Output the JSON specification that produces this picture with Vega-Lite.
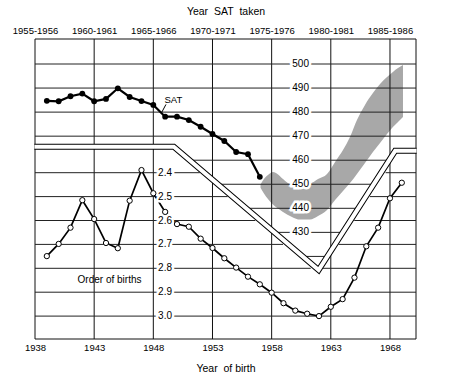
{
  "$schema": "https://vega.github.io/schema/vega-lite/v6.json",
  "width": 381,
  "height": 300,
  "autosize": {"type": "none"},
  "padding": {"left": 35, "top": 39, "right": 41, "bottom": 40},
  "background": "white",
  "config": {
    "view": {"stroke": null},
    "font": "Liberation Sans",
    "axis": {"domain": false, "ticks": false, "grid": false, "labelFont": "Liberation Sans", "labelFontSize": 9.5, "labelColor": "#000", "titleFont": "Liberation Sans", "titleFontSize": 10.5, "titleFontWeight": "normal", "titleColor": "#000"}
  },
  "datasets": {
    "sat": [
      {"year": 1956, "score": 484.7}, {"year": 1957, "score": 484.5}, {"year": 1958, "score": 486.6},
      {"year": 1959, "score": 487.7}, {"year": 1960, "score": 484.5}, {"year": 1961, "score": 485.5},
      {"year": 1962, "score": 489.9}, {"year": 1963, "score": 486.3}, {"year": 1964, "score": 484.6},
      {"year": 1965, "score": 483.0}, {"year": 1966, "score": 478.1}, {"year": 1967, "score": 478.1},
      {"year": 1968, "score": 476.7}, {"year": 1969, "score": 473.9}, {"year": 1970, "score": 470.9},
      {"year": 1971, "score": 468.0}, {"year": 1972, "score": 463.4}, {"year": 1973, "score": 462.5},
      {"year": 1974, "score": 453.1}
    ],
    "births": [
      {"year": 1939, "order": 2.749}, {"year": 1940, "order": 2.698}, {"year": 1941, "order": 2.630},
      {"year": 1942, "order": 2.515}, {"year": 1943, "order": 2.594}, {"year": 1944, "order": 2.694},
      {"year": 1945, "order": 2.716}, {"year": 1946, "order": 2.517}, {"year": 1947, "order": 2.389},
      {"year": 1948, "order": 2.486}, {"year": 1949, "order": 2.564}, {"year": 1950, "order": 2.615},
      {"year": 1951, "order": 2.626}, {"year": 1952, "order": 2.676}, {"year": 1953, "order": 2.715},
      {"year": 1954, "order": 2.758}, {"year": 1955, "order": 2.797}, {"year": 1956, "order": 2.835},
      {"year": 1957, "order": 2.867}, {"year": 1958, "order": 2.902}, {"year": 1959, "order": 2.946},
      {"year": 1960, "order": 2.977}, {"year": 1961, "order": 2.990}, {"year": 1962, "order": 3.000},
      {"year": 1963, "order": 2.961}, {"year": 1964, "order": 2.929}, {"year": 1965, "order": 2.839},
      {"year": 1966, "order": 2.708}, {"year": 1967, "order": 2.630}, {"year": 1968, "order": 2.507},
      {"year": 1969, "order": 2.442}
    ],
    "band": [
      {"year": 1974.06, "hi": 449.9, "lo": 448.6}, {"year": 1974.35, "hi": 452.2, "lo": 446.2},
      {"year": 1974.69, "hi": 453.8, "lo": 443.9}, {"year": 1975.11, "hi": 455.1, "lo": 441.6},
      {"year": 1975.54, "hi": 454.1, "lo": 439.9}, {"year": 1975.96, "hi": 452.2, "lo": 438.5},
      {"year": 1976.72, "hi": 449.9, "lo": 436.4}, {"year": 1977.40, "hi": 449.9, "lo": 435.3},
      {"year": 1978.24, "hi": 450.3, "lo": 435.3}, {"year": 1978.92, "hi": 452.2, "lo": 436.8},
      {"year": 1979.68, "hi": 454.3, "lo": 439.3}, {"year": 1980.36, "hi": 459.3, "lo": 443.5},
      {"year": 1981.03, "hi": 464.2, "lo": 447.2}, {"year": 1981.62, "hi": 469.6, "lo": 450.5},
      {"year": 1982.21, "hi": 476.7, "lo": 454.3}, {"year": 1982.89, "hi": 483.0, "lo": 458.8},
      {"year": 1983.56, "hi": 487.9, "lo": 463.4}, {"year": 1984.16, "hi": 491.7, "lo": 467.2},
      {"year": 1984.75, "hi": 494.6, "lo": 470.9}, {"year": 1985.25, "hi": 496.7, "lo": 473.8},
      {"year": 1985.68, "hi": 498.3, "lo": 475.9}, {"year": 1986.10, "hi": 499.6, "lo": 478.0}
    ],
    "vgrid": [{"x": 1955}, {"x": 1960}, {"x": 1965}, {"x": 1970}, {"x": 1975}, {"x": 1980}, {"x": 1985}, {"x": 1987.2}],
    "hframe": [{"v": 510.4}, {"v": 385.66}],
    "satgrid": [
      {"v": 500, "from": 1955, "to": 1987.2}, {"v": 490, "from": 1955, "to": 1987.2},
      {"v": 480, "from": 1955, "to": 1987.2}, {"v": 470, "from": 1955, "to": 1987.2},
      {"v": 460, "from": 1968.17, "to": 1984.79}, {"v": 450, "from": 1970.58, "to": 1983.54},
      {"v": 440, "from": 1972.99, "to": 1982.28}, {"v": 430, "from": 1975.39, "to": 1981.03},
      {"v": 420, "from": 1977.80, "to": 1979.76}
    ],
    "pipe": [
      {"i": 0, "year": 1954.95, "score": 465.57}, {"i": 1, "year": 1966.73, "score": 465.57},
      {"i": 2, "year": 1978.97, "score": 414.35}, {"i": 3, "year": 1985.44, "score": 463.91},
      {"i": 4, "year": 1987.25, "score": 463.91}
    ],
    "satlabels": [{"v": 500}, {"v": 490}, {"v": 480}, {"v": 470}, {"v": 460}, {"v": 450}, {"v": 440}, {"v": 430}],
    "birthgrid": [
      {"v": 2.4, "from": 1938, "to": 1951.93}, {"v": 2.4, "from": 1967.63, "to": 1970.2},
      {"v": 2.5, "from": 1938, "to": 1954.28}, {"v": 2.5, "from": 1966.30, "to": 1970.2},
      {"v": 2.6, "from": 1938, "to": 1956.62}, {"v": 2.6, "from": 1964.98, "to": 1970.2},
      {"v": 2.7, "from": 1938, "to": 1958.96}, {"v": 2.7, "from": 1963.65, "to": 1970.2},
      {"v": 2.8, "from": 1938, "to": 1961.30}, {"v": 2.8, "from": 1962.33, "to": 1970.2},
      {"v": 2.9, "from": 1938, "to": 1970.2}, {"v": 3.0, "from": 1938, "to": 1970.2}
    ],
    "birthlabels": [{"v": 2.4}, {"v": 2.5}, {"v": 2.6}, {"v": 2.7}, {"v": 2.8}, {"v": 2.9}, {"v": 3.0}]
  },
  "layer": [
    {
      "data": {"name": "band"},
      "mark": {"type": "area", "color": "#a8a8a8", "interpolate": "monotone"},
      "encoding": {
        "x": {"field": "year", "type": "quantitative", "scale": {"domain": [1955, 1987.2], "nice": false, "zero": false},
              "axis": {"orient": "top", "values": [1955, 1960, 1965, 1970, 1975, 1980, 1985], "labelExpr": "datum.value + '-' + (datum.value + 1)", "labelPadding": 4, "labelFlush": false, "labelOverlap": false, "title": "Year\u00a0 SAT\u00a0 taken", "titlePadding": 9}},
        "y": {"field": "hi", "type": "quantitative", "scale": {"domain": [385.66, 510.4], "nice": false, "zero": false}, "axis": null},
        "y2": {"field": "lo"}
      }
    },
    {
      "data": {"name": "vgrid"},
      "mark": {"type": "rule", "color": "#111", "strokeWidth": 1, "clip": false},
      "encoding": {"x": {"field": "x", "type": "quantitative", "scale": {"domain": [1955, 1987.2], "nice": false, "zero": false}, "axis": null}}
    },
    {
      "data": {"name": "hframe"},
      "mark": {"type": "rule", "color": "#111", "strokeWidth": 1, "clip": false},
      "encoding": {"y": {"field": "v", "type": "quantitative", "scale": {"domain": [385.66, 510.4], "nice": false, "zero": false}, "axis": null}}
    },
    {
      "data": {"name": "satgrid"},
      "mark": {"type": "rule", "color": "#222", "strokeWidth": 1},
      "encoding": {
        "y": {"field": "v", "type": "quantitative", "scale": {"domain": [385.66, 510.4], "nice": false, "zero": false}, "axis": null},
        "x": {"field": "from", "type": "quantitative", "scale": {"domain": [1955, 1987.2], "nice": false, "zero": false}, "axis": null},
        "x2": {"field": "to"}
      }
    },
    {
      "data": {"name": "pipe"},
      "mark": {"type": "line", "color": "#000", "strokeWidth": 6, "strokeJoin": "miter", "strokeCap": "butt", "clip": false},
      "encoding": {
        "x": {"field": "year", "type": "quantitative", "scale": {"domain": [1955, 1987.2], "nice": false, "zero": false}, "axis": null},
        "y": {"field": "score", "type": "quantitative", "scale": {"domain": [385.66, 510.4], "nice": false, "zero": false}, "axis": null},
        "order": {"field": "i"}
      }
    },
    {
      "data": {"name": "pipe"},
      "mark": {"type": "line", "color": "#fff", "strokeWidth": 4, "strokeJoin": "miter", "strokeCap": "butt", "clip": false},
      "encoding": {
        "x": {"field": "year", "type": "quantitative", "scale": {"domain": [1955, 1987.2], "nice": false, "zero": false}, "axis": null},
        "y": {"field": "score", "type": "quantitative", "scale": {"domain": [385.66, 510.4], "nice": false, "zero": false}, "axis": null},
        "order": {"field": "i"}
      }
    },
    {
      "data": {"name": "satlabels"},
      "mark": {"type": "text", "fontSize": 10, "fill": "#fff", "stroke": "#fff", "strokeWidth": 5, "align": "center", "baseline": "middle"},
      "encoding": {
        "x": {"datum": 1977.45, "type": "quantitative", "scale": {"domain": [1955, 1987.2], "nice": false, "zero": false}, "axis": null},
        "y": {"field": "v", "type": "quantitative", "scale": {"domain": [385.66, 510.4], "nice": false, "zero": false}, "axis": null},
        "text": {"field": "v", "type": "quantitative"}
      }
    },
    {
      "data": {"name": "satlabels"},
      "mark": {"type": "text", "fontSize": 10, "color": "#000", "align": "center", "baseline": "middle"},
      "encoding": {
        "x": {"datum": 1977.45, "type": "quantitative", "scale": {"domain": [1955, 1987.2], "nice": false, "zero": false}, "axis": null},
        "y": {"field": "v", "type": "quantitative", "scale": {"domain": [385.66, 510.4], "nice": false, "zero": false}, "axis": null},
        "text": {"field": "v", "type": "quantitative"}
      }
    },
    {
      "data": {"name": "sat"},
      "mark": {"type": "line", "color": "#000", "strokeWidth": 2.2},
      "encoding": {
        "x": {"field": "year", "type": "quantitative", "scale": {"domain": [1955, 1987.2], "nice": false, "zero": false}, "axis": null},
        "y": {"field": "score", "type": "quantitative", "scale": {"domain": [385.66, 510.4], "nice": false, "zero": false}, "axis": null}
      }
    },
    {
      "data": {"name": "sat"},
      "mark": {"type": "point", "shape": "circle", "filled": true, "color": "#000", "size": 34, "opacity": 1},
      "encoding": {
        "x": {"field": "year", "type": "quantitative", "scale": {"domain": [1955, 1987.2], "nice": false, "zero": false}, "axis": null},
        "y": {"field": "score", "type": "quantitative", "scale": {"domain": [385.66, 510.4], "nice": false, "zero": false}, "axis": null}
      }
    },
    {
      "data": {"values": [{"label": "SAT"}]},
      "mark": {"type": "text", "fontSize": 9.5, "color": "#000", "align": "center", "baseline": "middle"},
      "encoding": {
        "x": {"datum": 1966.69, "type": "quantitative", "scale": {"domain": [1955, 1987.2], "nice": false, "zero": false}, "axis": null},
        "y": {"datum": 485.2, "type": "quantitative", "scale": {"domain": [385.66, 510.4], "nice": false, "zero": false}, "axis": null},
        "text": {"field": "label"}
      }
    },
    {
      "data": {"values": [{"label": "SAT"}]},
      "mark": {"type": "rule", "color": "#000", "strokeWidth": 1},
      "encoding": {
        "x": {"datum": 1965.71, "type": "quantitative", "scale": {"domain": [1955, 1987.2], "nice": false, "zero": false}, "axis": null},
        "y": {"datum": 479.9, "type": "quantitative", "scale": {"domain": [385.66, 510.4], "nice": false, "zero": false}, "axis": null},
        "x2": {"datum": 1966.07},
        "y2": {"datum": 483.2}
      }
    },
    {
      "data": {"name": "birthgrid"},
      "mark": {"type": "rule", "color": "#222", "strokeWidth": 1},
      "encoding": {
        "x": {"field": "from", "type": "quantitative", "scale": {"domain": [1938, 1970.2], "nice": false, "zero": false},
              "axis": {"orient": "bottom", "values": [1938, 1943, 1948, 1953, 1958, 1963, 1968], "format": "d", "labelPadding": 3, "labelFlush": false, "labelOverlap": false, "title": "Year\u00a0 of birth", "titlePadding": 12}},
        "x2": {"field": "to"},
        "y": {"field": "v", "type": "quantitative", "scale": {"domain": [1.8406, 3.0958], "reverse": true, "nice": false, "zero": false}, "axis": null}
      }
    },
    {
      "data": {"name": "births"},
      "mark": {"type": "line", "color": "#000", "strokeWidth": 1.7},
      "encoding": {
        "x": {"field": "year", "type": "quantitative", "scale": {"domain": [1938, 1970.2], "nice": false, "zero": false}, "axis": null},
        "y": {"field": "order", "type": "quantitative", "scale": {"domain": [1.8406, 3.0958], "reverse": true, "nice": false, "zero": false}, "axis": null}
      }
    },
    {
      "data": {"name": "birthlabels"},
      "mark": {"type": "text", "fontSize": 10, "fill": "#fff", "stroke": "#fff", "strokeWidth": 5, "align": "center", "baseline": "middle"},
      "encoding": {
        "x": {"datum": 1948.99, "type": "quantitative", "scale": {"domain": [1938, 1970.2], "nice": false, "zero": false}, "axis": null},
        "y": {"field": "v", "type": "quantitative", "scale": {"domain": [1.8406, 3.0958], "reverse": true, "nice": false, "zero": false}, "axis": null},
        "text": {"field": "v", "type": "quantitative", "format": ".1f"}
      }
    },
    {
      "data": {"name": "birthlabels"},
      "mark": {"type": "text", "fontSize": 10, "color": "#000", "align": "center", "baseline": "middle"},
      "encoding": {
        "x": {"datum": 1948.99, "type": "quantitative", "scale": {"domain": [1938, 1970.2], "nice": false, "zero": false}, "axis": null},
        "y": {"field": "v", "type": "quantitative", "scale": {"domain": [1.8406, 3.0958], "reverse": true, "nice": false, "zero": false}, "axis": null},
        "text": {"field": "v", "type": "quantitative", "format": ".1f"}
      }
    },
    {
      "data": {"name": "births"},
      "mark": {"type": "point", "shape": "circle", "filled": true, "fill": "#fff", "stroke": "#000", "strokeWidth": 1, "size": 28, "opacity": 1},
      "encoding": {
        "x": {"field": "year", "type": "quantitative", "scale": {"domain": [1938, 1970.2], "nice": false, "zero": false}, "axis": null},
        "y": {"field": "order", "type": "quantitative", "scale": {"domain": [1.8406, 3.0958], "reverse": true, "nice": false, "zero": false}, "axis": null}
      }
    },
    {
      "data": {"values": [{"label": "Order of births"}]},
      "mark": {"type": "text", "fontSize": 10, "color": "#000", "align": "center", "baseline": "middle"},
      "encoding": {
        "x": {"datum": 1944.3, "type": "quantitative", "scale": {"domain": [1938, 1970.2], "nice": false, "zero": false}, "axis": null},
        "y": {"datum": 2.851, "type": "quantitative", "scale": {"domain": [1.8406, 3.0958], "reverse": true, "nice": false, "zero": false}, "axis": null},
        "text": {"field": "label"}
      }
    }
  ],
  "resolve": {"scale": {"x": "independent", "y": "independent"}, "axis": {"x": "independent", "y": "independent"}}
}
